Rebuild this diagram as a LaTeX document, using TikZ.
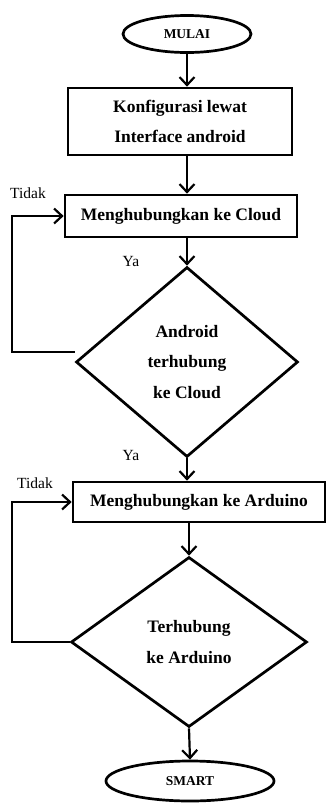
\documentclass[tikz,border=0pt]{standalone}
\usepackage{fontspec}
\setmainfont{Liberation Serif}
\usetikzlibrary{shapes.geometric,arrows.meta}
\begin{document}
\begin{tikzpicture}[x=1pt,y=-1pt,
  shp/.style={draw=black,line width=2.7pt,inner sep=0pt,font=\bfseries\fontsize{17.5}{30.5}\selectfont,align=center},
  term/.style={shp,ellipse,font=\bfseries\fontsize{13.5}{15}\selectfont},
  proc/.style={shp,rectangle},
  dec/.style={shp,diamond},
  lbl/.style={font=\fontsize{15.5}{18}\selectfont,inner sep=0pt},
  arr/.style={draw=black,line width=2.2pt,-{Straight Barb[length=8pt,width=15pt,line width=2.2pt]}}]
\useasboundingbox (0,0) rectangle (327,807);
\node[term,minimum width=128pt,minimum height=37pt] (start) at (187,34) {MULAI};
\node[proc,minimum width=224pt,minimum height=67pt] (b1) at (180,121.5) {Konfigurasi lewat\\Interface android};
\node[proc,minimum width=232pt,minimum height=42pt] (b2) at (181,216) {Menghubungkan ke Cloud};
\node[dec,minimum width=222pt,minimum height=190pt] (d1) at (187,362) {Android\\terhubung\\ke Cloud};
\node[proc,minimum width=252pt,minimum height=40pt] (b3) at (199,502) {Menghubungkan ke Arduino};
\node[dec,minimum width=236pt,minimum height=170pt] (d2) at (189,642) {Terhubung\\ke Arduino};
\node[term,minimum width=168pt,minimum height=40pt] (end) at (190,781) {SMART};
\node[lbl] (t1) at (28,193) {Tidak};
\node[lbl] (y1) at (131,261) {Ya};
\node[lbl] (y2) at (131,455) {Ya};
\node[lbl] (t2) at (35,483) {Tidak};
\coordinate (l1) at (12,300);
\coordinate (l2) at (12,580);
\draw[arr] (start.south) -- (start.south |- b1.north);
\draw[arr] (b1.south -| d1.north) -- (b2.north -| d1.north);
\draw[arr] (b2.south -| d1.north) -- (d1.north);
\draw[arr] (d1.south) -- (b3.north -| d1.south);
\draw[arr] (b3.south -| d2.north) -- (d2.north);
\draw[arr] (d2.south) -- (end.north);
\draw[arr] ([yshift=10pt]d1.west) -| (l1) |- (b2.west);
\draw[arr] (d2.west) -| (l2) |- (b3.west);
\end{tikzpicture}
\end{document}
